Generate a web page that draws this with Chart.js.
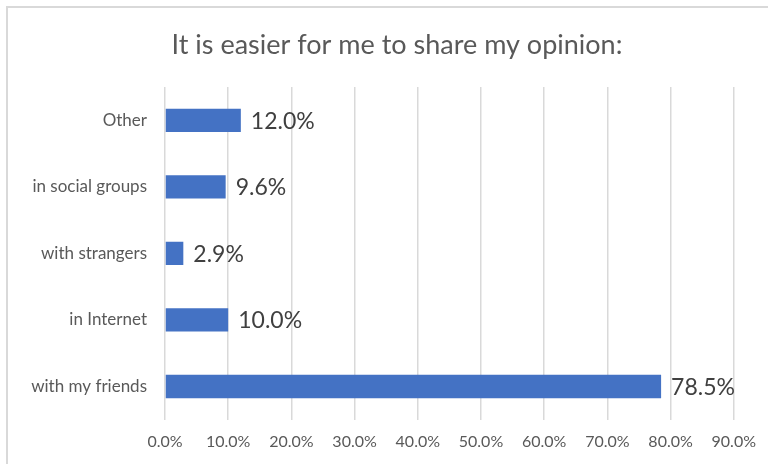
<!DOCTYPE html>
<html>
<head>
<meta charset="utf-8">
<script src="https://cdn.jsdelivr.net/npm/chart.js@4"></script>
<style>
    body { margin: 0; background: #fff; overflow: hidden; }
    #frame { position: absolute; left: 6px; top: 6px; width: 800px; height: 500px; border: 2px solid #d9d9d9; }
    #wrap { position: absolute; left: 0; top: 0; width: 768px; height: 464px; }
</style>
</head>
<body>
<div id="frame"></div>
<div id="wrap"><canvas id="myChart"></canvas></div>
<script>
'use strict';
var categories = ["Other", "in social groups", "with strangers", "in Internet", "with my friends"];
var shares = [12.0, 9.6, 2.9, 10.0, 78.5];
var axisMax = 90;
var tickStep = 10;
var chartTitle = 'It is easier for me to share my opinion:';

var fontName = "Lato, 'Noto Sans', sans-serif";

// write the value next to each bar, like the excel labels
var valueLabels = {
    id: 'valueLabels',
    afterDatasetsDraw: function (chart) {
        var ctx = chart.ctx;
        var meta = chart.getDatasetMeta(0);
        ctx.save();
        ctx.font = '23px ' + fontName;
        ctx.fillStyle = '#404040';
        ctx.textBaseline = 'middle';
        ctx.textAlign = 'left';
        meta.data.forEach(function (bar, i) {
            ctx.fillText(shares[i].toFixed(1) + '%', bar.x + 10, bar.y + 1);
        });
        ctx.restore();
    }
};

// title is off centre in the original (chart frame is wider than the picture)
var offTitle = {
    id: 'offTitle',
    afterDraw: function (chart) {
        var ctx = chart.ctx;
        ctx.save();
        ctx.font = '27px ' + fontName;
        ctx.fillStyle = '#595959';
        ctx.textAlign = 'center';
        ctx.textBaseline = 'middle';
        ctx.fillText(chartTitle, 397, 45);
        ctx.restore();
    }
};

var ctx = document.getElementById("myChart");
var myChart = new Chart(ctx, {
    type: 'bar',
    data: {
        labels: categories,
        datasets: [{
                data: shares,
                backgroundColor: "#4472c4",
                borderWidth: 0,
                barPercentage: 0.35,
                categoryPercentage: 1
            }]
    },
    options: {
        indexAxis: 'y',
        responsive: true,
        maintainAspectRatio: false,
        animation: false,
        layout: {padding: {left: 0, right: 31, top: 87, bottom: 1}},
        plugins: {
            legend: {display: false},
            tooltip: {enabled: false},
            title: {display: false}
        },
        scales: {
            x: {
                min: 0,
                max: axisMax,
                border: {display: false},
                grid: {color: '#d9d9d9', lineWidth: 1.5, drawTicks: false},
                ticks: {
                    stepSize: tickStep,
                    padding: 12,
                    color: '#595959',
                    font: {family: fontName, size: 16},
                    callback: function (v) { return v.toFixed(1) + '%'; }
                }
            },
            y: {
                border: {display: false},
                grid: {display: false, drawTicks: false},
                afterFit: function (scale) { scale.width = 165; },
                ticks: {
                    padding: 18,
                    color: '#595959',
                    font: {family: fontName, size: 17}
                }
            }
        }
    },
    plugins: [valueLabels, offTitle]
});
</script>
</body>
</html>
